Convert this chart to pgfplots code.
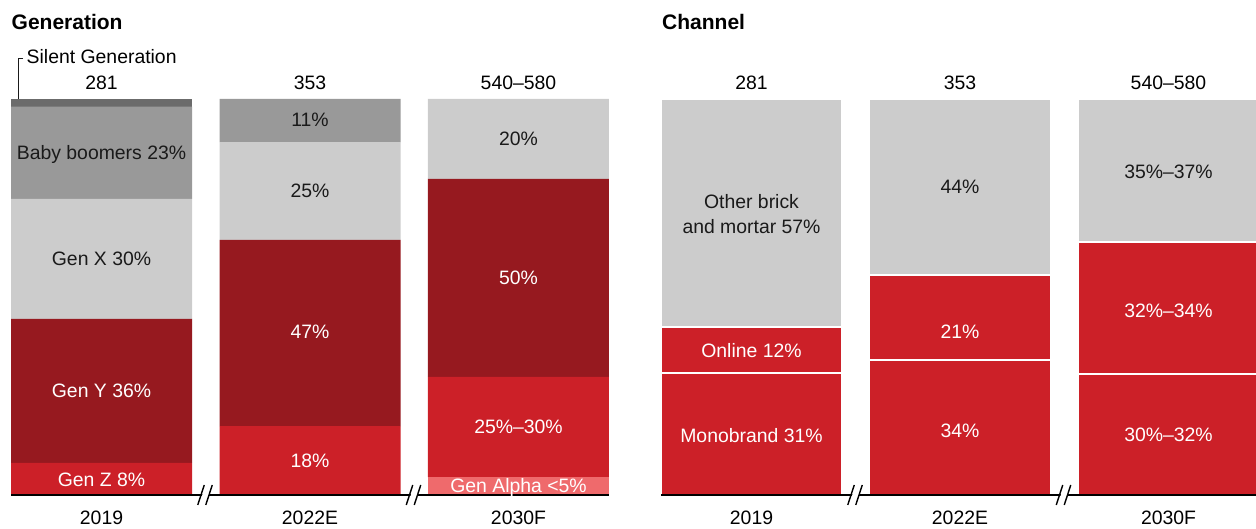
\documentclass[border=0pt]{standalone}
\usepackage{pgfplots}
\pgfplotsset{compat=1.18}
\usepackage{fontspec}
\setmainfont{Liberation Sans}
\definecolor{sgrey}{HTML}{6B6B6B}
\definecolor{mgrey}{HTML}{999999}
\definecolor{lgrey}{HTML}{CCCCCC}
\definecolor{dred}{HTML}{96191F}
\definecolor{mred}{HTML}{CC2028}
\definecolor{pinkr}{HTML}{EF6A6C}
\definecolor{txt}{HTML}{1A1A1A}
\newcommand\fs{\fontsize{19.4pt}{22pt}\selectfont}
\tikzset{
  lblw/.style={font=\fs, text height=13.9pt, text depth=0pt, inner sep=0pt, anchor=center, text=white},
  lblk/.style={font=\fs, text height=13.9pt, text depth=0pt, inner sep=0pt, anchor=center, text=txt},
  tot/.style={font=\fs, anchor=base, inner sep=0pt, text=black},
  brk/.style={line width=1.4pt, black},
}
\pgfplotsset{
  geom/.style={
    anchor=south west, scale only axis, width=598pt, height=396pt,
    xmin=-0.4341, xmax=2.4341, ymin=0, ymax=100, clip=false,
  },
  panel/.style={
    geom,
    ybar stacked, bar width=181pt,
    axis x line=bottom, axis y line=none,
    axis line style={draw=none},
    xtick={0,1,2}, xticklabels={2019,2022E,2030F},
    major tick length=0pt, ytick=\empty,
    xticklabel style={font=\fs, anchor=base, yshift=-29.5pt, inner sep=0pt, text=black},
  },
  overlay/.style={geom, hide axis},
}
\newcommand\brkmark[1]{%
  \fill[white, shift={(axis cs:#1,0)}] (-4pt,-3pt) -- (2.5pt,-3pt) -- (3.5pt,3pt) -- (-3pt,3pt) -- cycle;
  \draw[brk, shift={(axis cs:#1,0)}] (-8pt,-10pt) -- (-1.5pt,10pt);
  \draw[brk, shift={(axis cs:#1,0)}] (0pt,-10pt) -- (6.5pt,10pt);
}
\begin{document}
\begin{tikzpicture}
\useasboundingbox (0,0) rectangle (1256pt,529pt);
% ---------------- Generation ----------------
\node[font=\fontsize{21pt}{24pt}\selectfont\bfseries, anchor=base west, inner sep=0pt] at (11.5pt,499.5pt) {Generation};
\begin{axis}[panel, at={(11pt,34pt)}]
\addplot[fill=pinkr, draw=none] coordinates {(0,0) (1,0) (2,4.5)};
\addplot[fill=mred, draw=none] coordinates {(0,8.1) (1,17.4) (2,25.3)};
\addplot[fill=dred, draw=none] coordinates {(0,36.4) (1,47.0) (2,50.0)};
\addplot[fill=lgrey, draw=none] coordinates {(0,30.3) (1,24.7) (2,20.2)};
\addplot[fill=mgrey, draw=none] coordinates {(0,23.3) (1,10.9) (2,0)};
\addplot[fill=sgrey, draw=none] coordinates {(0,1.9) (1,0) (2,0)};
\end{axis}
\begin{axis}[overlay, at={(11pt,34pt)}]
\draw[line width=2.1pt, black] (rel axis cs:0,0) -- (rel axis cs:1,0);
\brkmark{0.5}
\brkmark{1.5}
\node[lblk] at (axis cs:0,86.6) {Baby boomers 23\%};
\node[lblk] at (axis cs:0,59.6) {Gen X 30\%};
\node[lblw] at (axis cs:0,26.3) {Gen Y 36\%};
\node[lblw] at (axis cs:0,3.8) {Gen Z 8\%};
\node[lblk] at (axis cs:1,94.7) {11\%};
\node[lblk] at (axis cs:1,77.0) {25\%};
\node[lblw] at (axis cs:1,41.2) {47\%};
\node[lblw] at (axis cs:1,8.6) {18\%};
\node[lblk] at (axis cs:2,89.9) {20\%};
\node[lblw] at (axis cs:2,54.8) {50\%};
\node[lblw] at (axis cs:2,17.2) {25\%–30\%};
\node[lblw] at (axis cs:2,2.3) {Gen Alpha <5\%};
\node[tot] at (axis cs:0,102.5) {281};
\node[tot] at (axis cs:1,102.5) {353};
\node[tot] at (axis cs:2,102.5) {540–580};
\end{axis}
\draw[line width=0.8pt, txt] (23pt,471pt) -- (18.3pt,471pt) -- (18.3pt,430pt);
\node[font=\fs, anchor=base west, inner sep=0pt] at (26.5pt,465pt) {Silent Generation};
% ---------------- Channel ----------------
\node[font=\fontsize{21pt}{24pt}\selectfont\bfseries, anchor=base west, inner sep=0pt] at (662pt,499.5pt) {Channel};
\begin{axis}[panel, at={(661pt,34pt)}]
\addplot[fill=mred, draw=white, line width=1.4pt] coordinates {(0,30.8) (1,34.1) (2,30.6)};
\addplot[fill=mred, draw=white, line width=1.4pt] coordinates {(0,11.6) (1,21.5) (2,33.3)};
\addplot[fill=lgrey, draw=white, line width=1.4pt] coordinates {(0,57.6) (1,44.4) (2,36.1)};
\end{axis}
\begin{axis}[overlay, at={(661pt,34pt)}]
\draw[line width=2.1pt, black] (rel axis cs:0,0) -- (rel axis cs:1,0);
\brkmark{0.5}
\brkmark{1.5}
\node[lblk] at (axis cs:0,74.2) {Other brick};
\node[lblk] at (axis cs:0,67.9) {and mortar 57\%};
\node[lblw] at (axis cs:0,36.4) {Online 12\%};
\node[lblw] at (axis cs:0,14.9) {Monobrand 31\%};
\node[lblk] at (axis cs:1,78.0) {44\%};
\node[lblw] at (axis cs:1,41.4) {21\%};
\node[lblw] at (axis cs:1,16.4) {34\%};
\node[lblk] at (axis cs:2,81.8) {35\%–37\%};
\node[lblw] at (axis cs:2,46.7) {32\%–34\%};
\node[lblw] at (axis cs:2,15.2) {30\%–32\%};
\node[tot] at (axis cs:0,102.5) {281};
\node[tot] at (axis cs:1,102.5) {353};
\node[tot] at (axis cs:2,102.5) {540–580};
\end{axis}
\end{tikzpicture}
\end{document}
